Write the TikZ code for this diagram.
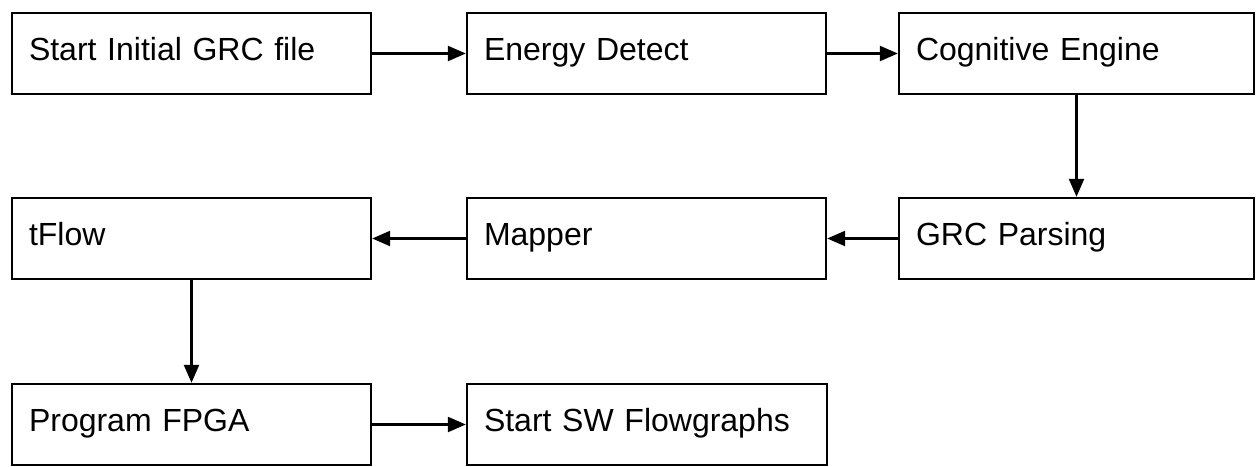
\documentclass[tikz,border=0pt]{standalone}
\usepackage{fontspec}
\setmainfont{Liberation Sans}
\usetikzlibrary{arrows.meta}
\begin{document}
\begin{tikzpicture}[x=1pt,y=-1pt,
  stepbox/.style={draw, line width=2.4pt, rectangle, minimum height=81pt,
    inner xsep=17pt, inner ysep=0pt, text height=47pt, text depth=34pt,
    align=left, font=\fontsize{32}{38}\selectfont},
  flow/.style={line width=2.4pt, -{Triangle[length=18pt,width=15pt]}}]
\useasboundingbox (0,0) rectangle (1256,466);
% first row
\node[stepbox, minimum width=359pt, text width=325pt] (b1) at (191.5,53.5) {Start Initial GRC file};
\node[stepbox, minimum width=359pt, text width=325pt] (b2) at (646.5,53.5) {Energy Detect};
\node[stepbox, minimum width=355pt, text width=321pt] (b3) at (1076.5,53.5) {Cognitive Engine};
% second row
\node[stepbox, minimum width=355pt, text width=321pt] (b4) at (1076.5,238.5) {GRC Parsing};
\node[stepbox, minimum width=359pt, text width=325pt] (b5) at (646.5,238.5) {Mapper};
\node[stepbox, minimum width=359pt, text width=325pt] (b6) at (191.5,238.5) {tFlow};
% third row
\node[stepbox, minimum width=359pt, text width=325pt] (b7) at (191.5,424.5) {Program FPGA};
\node[stepbox, minimum width=360pt, text width=326pt] (b8) at (647,424.5) {Start SW Flowgraphs};
% connectors
\draw[flow] (b1) -- (b2);
\draw[flow] (b2) -- (b3);
\draw[flow] (b3.south) -- (b4.north);
\draw[flow] (b4) -- (b5);
\draw[flow] (b5) -- (b6);
\draw[flow] (b6.south) -- (b7.north);
\draw[flow] (b7) -- (b8);
\end{tikzpicture}
\end{document}
